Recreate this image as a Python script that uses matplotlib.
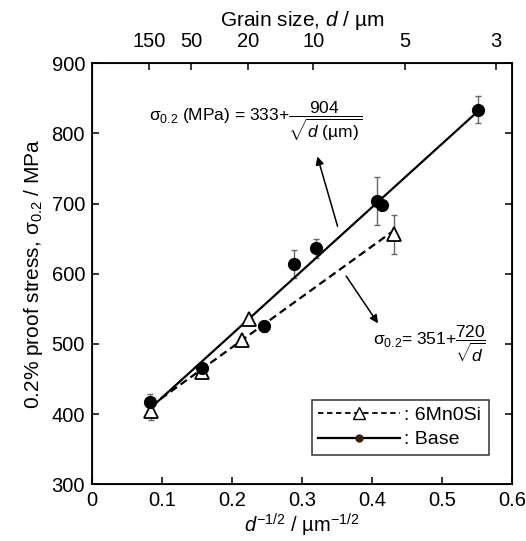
import matplotlib
matplotlib.use("Agg")
import matplotlib.pyplot as plt
from matplotlib.lines import Line2D
import numpy as np

plt.rcParams["font.family"] = ["Liberation Sans", "DejaVu Sans"]
plt.rcParams["mathtext.fontset"] = "custom"
plt.rcParams["mathtext.rm"] = "Liberation Sans"
plt.rcParams["mathtext.it"] = "Liberation Sans:italic"
plt.rcParams["mathtext.sf"] = "Liberation Sans"

# Base steel: d^-1/2 (um^-1/2) vs 0.2% proof stress (MPa)
base_x = [0.083, 0.157, 0.246, 0.289, 0.320, 0.408, 0.414, 0.551]
base_y = [417, 466, 525, 614, 636, 704, 698, 834]
base_err = [12, 0, 8, 20, 13, 34, 0, 19]

# 6Mn0Si steel
mn_x = [0.084, 0.157, 0.214, 0.225, 0.431]
mn_y = [405, 460, 505, 535, 656]
mn_err = [13, 0, 0, 0, 28]

# Hall-Petch fits: intercept, slope, x range
base_fit = (333, 904, [0.083, 0.551])
mn_fit = (351, 720, [0.084, 0.431])

grain_sizes = [150, 50, 20, 10, 5, 3]


def fit_line(fit):
    a, b, xr = fit
    xr = np.array(xr)
    return xr, a + b * xr


fig = plt.figure(figsize=(5.26, 5.41), dpi=100)
ax = fig.add_axes([0.175, 0.105, 0.798, 0.778])

xs, ys = fit_line(base_fit)
ax.plot(xs, ys, "-", color="black", lw=1.6, zorder=2)
xs, ys = fit_line(mn_fit)
ax.plot(xs, ys, "--", color="black", lw=1.6, dashes=(3.5, 2), zorder=2)

ax.errorbar(base_x, base_y, yerr=base_err, fmt="none", ecolor="#666666",
            elinewidth=1, capsize=2.5, capthick=1, zorder=1)
ax.errorbar(mn_x, mn_y, yerr=mn_err, fmt="none", ecolor="#666666",
            elinewidth=1, capsize=2.5, capthick=1, zorder=1)
ax.plot(base_x, base_y, "o", color="black", ms=8.5, ls="none", zorder=4)
ax.plot(mn_x, mn_y, "^", mfc="white", mec="black", mew=1.3, ms=10,
        ls="none", zorder=3)

ax.set_xlim(0, 0.6)
ax.set_ylim(300, 900)
ax.set_xticks(np.arange(0, 0.61, 0.1))
ax.set_xticklabels(["0", "0.1", "0.2", "0.3", "0.4", "0.5", "0.6"])
ax.set_yticks(np.arange(300, 901, 100))
ax.tick_params(direction="in", length=5, width=1.1, labelsize=14.5,
               right=True, pad=5)
for s in ax.spines.values():
    s.set_linewidth(1.3)

ax.set_xlabel(r"$d^{\mathrm{-1/2}}$ / µm$^{\mathrm{-1/2}}$", fontsize=14.5,
              labelpad=1)
ax.set_ylabel(r"0.2% proof stress, σ$_{\mathrm{0.2}}$ / MPa", fontsize=15,
              labelpad=5)

ax2 = ax.twiny()
ax2.set_xlim(ax.get_xlim())
ax2.set_xticks([g ** -0.5 for g in grain_sizes])
ax2.set_xticklabels([str(g) for g in grain_sizes])
ax2.tick_params(direction="in", length=5, width=1.1, labelsize=14.5, pad=9)
ax2.set_xlabel(r"Grain size, $d$ / µm", fontsize=15, labelpad=4)

ax.annotate("", xy=(0.321, 771), xytext=(0.352, 664),
            arrowprops=dict(arrowstyle="-|>", color="black", lw=1.1,
                            mutation_scale=12))
ax.annotate("", xy=(0.411, 526), xytext=(0.361, 600),
            arrowprops=dict(arrowstyle="-|>", color="black", lw=1.1,
                            mutation_scale=12))
ax.text(0.081, 817,
        r"σ$_{\mathrm{0.2}}$ (MPa) = 333+$\dfrac{904}{\sqrt{d\ \mathrm{(µm)}}}$",
        fontsize=12.5, va="center", ha="left")
ax.text(0.401, 500, r"σ$_{\mathrm{0.2}}$= 351+$\dfrac{720}{\sqrt{d}}$",
        fontsize=12.5, va="center", ha="left")

handles = [
    Line2D([], [], color="black", ls="--", dashes=(3, 2), lw=1.3, marker="^",
           mfc="white", mec="black", ms=9),
    Line2D([], [], color="black", ls="-", lw=1.6, marker="o", mfc="#3a1e14",
           mec="#3a1e14", ms=5),
]
leg = ax.legend(handles, [": 6Mn0Si", ": Base"], loc="lower left",
                bbox_to_anchor=(0.523, 0.069, 0.422, 0.143), mode="expand",
                fontsize=14, handlelength=4.2, handletextpad=0.2,
                frameon=True, fancybox=False, borderaxespad=0,
                labelspacing=0.35, borderpad=0.35)
leg.get_frame().set_edgecolor("black")
leg.get_frame().set_linewidth(1.1)

fig.savefig("out.png", dpi=100)
